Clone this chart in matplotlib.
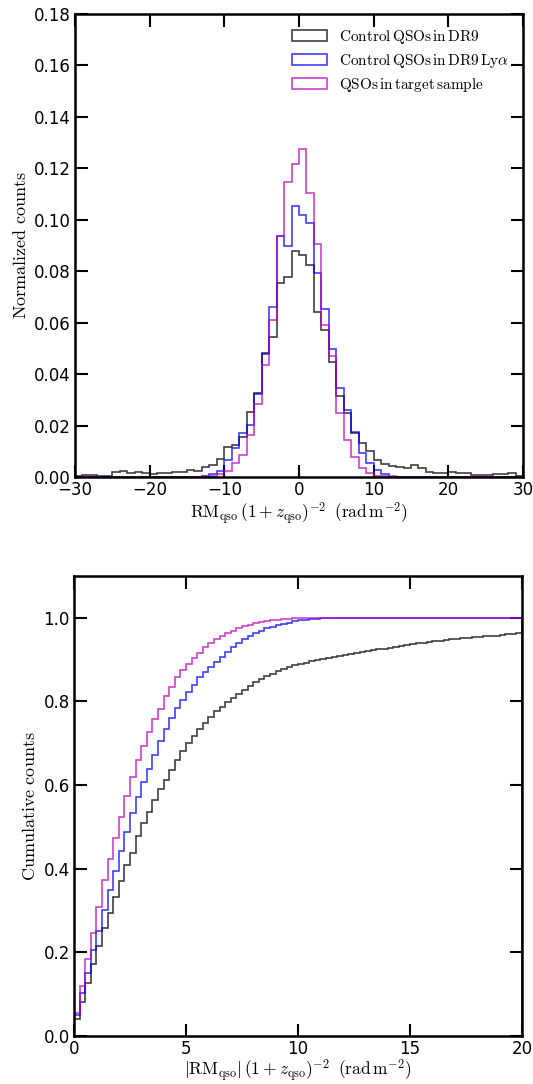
import matplotlib
matplotlib.use('Agg')
import matplotlib.pyplot as plt
import numpy as np

# top panel: normalized histogram, 1 rad/m^2 bins from -30 to 30
edges_rm = np.arange(-30, 31, 1)

dr9 = [0.0004, 0.0006, 0.0006, 0.0004, 0.0002, 0.0019, 0.0022, 0.0017, 0.0019, 0.0014,
       0.0012, 0.0014, 0.0017, 0.0021, 0.0018, 0.0027, 0.0025, 0.0040, 0.0045, 0.0070,
       0.0115, 0.0125, 0.0155, 0.0254, 0.0325, 0.0481, 0.0546, 0.0756, 0.0776, 0.0880,
       0.0863, 0.0826, 0.0643, 0.0572, 0.0448, 0.0315, 0.0248, 0.0172, 0.0131, 0.0102,
       0.0066, 0.0050, 0.0043, 0.0038, 0.0034, 0.0047, 0.0034, 0.0020, 0.0017, 0.0014,
       0.0018, 0.0016, 0.0014, 0.0009, 0.0008, 0.0009, 0.0010, 0.0013, 0.0014, 0.0004]

dr9_lya = [0, 0, 0, 0, 0, 0, 0, 0, 0, 0,
           0, 0, 0, 0, 0, 0, 0, 0.0004, 0.0012, 0.0025,
           0.0066, 0.0112, 0.0170, 0.0202, 0.0323, 0.0478, 0.0662, 0.0937, 0.0899, 0.1054,
           0.1019, 0.0986, 0.0792, 0.0652, 0.0496, 0.0345, 0.0260, 0.0176, 0.0092, 0.0055,
           0.0027, 0.0012, 0, 0, 0, 0, 0, 0, 0, 0,
           0, 0, 0, 0, 0, 0, 0, 0, 0, 0]

target = [0, 0, 0, 0, 0, 0, 0, 0, 0, 0,
          0, 0, 0, 0, 0, 0, 0, 0.0002, 0.0005, 0.0012,
          0.0025, 0.0055, 0.0086, 0.0163, 0.0283, 0.0435, 0.0610, 0.0938, 0.1148, 0.1216,
          0.1277, 0.1103, 0.0906, 0.0591, 0.0470, 0.0248, 0.0144, 0.0077, 0.0036, 0.0014,
          0.0005, 0.0003, 0.0002, 0.0001, 0, 0, 0, 0, 0, 0,
          0, 0, 0, 0, 0, 0, 0, 0, 0, 0]

# bottom panel: cumulative of |RM|, 0.25 bins from 0 to 20
edges_abs = np.arange(0, 20.01, 0.25)

cum_dr9 = [0.040, 0.082, 0.127, 0.172, 0.214, 0.257, 0.295, 0.333, 0.371, 0.409,
           0.438, 0.478, 0.508, 0.535, 0.563, 0.590, 0.612, 0.636, 0.660, 0.682,
           0.700, 0.717, 0.734, 0.749, 0.763, 0.776, 0.787, 0.797, 0.808, 0.818,
           0.828, 0.837, 0.845, 0.853, 0.860, 0.866, 0.872, 0.877, 0.882, 0.886,
           0.889, 0.892, 0.895, 0.898, 0.900, 0.903, 0.906, 0.909, 0.911, 0.913,
           0.915, 0.917, 0.920, 0.922, 0.924, 0.926, 0.928, 0.930, 0.932, 0.934,
           0.936, 0.938, 0.940, 0.941, 0.943, 0.945, 0.946, 0.948, 0.949, 0.950,
           0.952, 0.953, 0.954, 0.955, 0.956, 0.957, 0.959, 0.960, 0.961, 0.963]

cum_dr9_lya = [0.050, 0.102, 0.151, 0.205, 0.250, 0.301, 0.349, 0.395, 0.443, 0.488,
               0.534, 0.570, 0.606, 0.637, 0.672, 0.704, 0.733, 0.759, 0.783, 0.802,
               0.821, 0.839, 0.859, 0.869, 0.882, 0.894, 0.905, 0.918, 0.930, 0.939,
               0.948, 0.956, 0.963, 0.968, 0.974, 0.978, 0.982, 0.985, 0.988, 0.991,
               0.993, 0.995, 0.996, 0.997, 0.998, 0.998, 0.999, 0.999] + [1.0] * 32

cum_target = [0.056, 0.120, 0.183, 0.245, 0.308, 0.373, 0.422, 0.474, 0.523, 0.574,
              0.620, 0.660, 0.693, 0.727, 0.757, 0.782, 0.813, 0.835, 0.857, 0.875,
              0.889, 0.903, 0.916, 0.929, 0.939, 0.949, 0.957, 0.963, 0.969, 0.974,
              0.979, 0.983, 0.986, 0.989, 0.991, 0.993, 0.995, 0.996, 0.997, 0.998,
              0.998, 0.999, 0.999, 0.999, 0.999] + [1.0] * 35

labels = [r'$\mathrm{Control\,QSOs\,in\,DR9}$',
          r'$\mathrm{Control\,QSOs\,in\,DR9\,Ly}\alpha$',
          r'$\mathrm{QSOs\,in\,target\,sample}$']
colors = ['k', 'b', 'm']

plt.rcParams['mathtext.fontset'] = 'cm'
plt.rcParams['font.size'] = 12
plt.rcParams['axes.linewidth'] = 1.8
for ax_name in ['xtick', 'ytick']:
    plt.rcParams[ax_name + '.direction'] = 'in'
    plt.rcParams[ax_name + '.major.size'] = 9
    plt.rcParams[ax_name + '.major.width'] = 1.5
    plt.rcParams[ax_name + '.major.pad'] = 3
plt.rcParams['xtick.top'] = True
plt.rcParams['ytick.right'] = True

fig = plt.figure(figsize=(5.33, 10.84), dpi=100)
ax1 = fig.add_axes([0.1407, 0.5600, 0.8405, 0.4271])
ax2 = fig.add_axes([0.1388, 0.0443, 0.8405, 0.4246])

centers = 0.5 * (edges_rm[:-1] + edges_rm[1:])
for vals, c, lab in zip([dr9, dr9_lya, target], colors, labels):
    ax1.hist(centers, bins=edges_rm, weights=vals, histtype='step',
             color=c, alpha=0.75, linewidth=1.2, label=lab)

ax1.set_xlim(-30, 30)
ax1.set_ylim(0, 0.18)
ax1.set_xticks(np.arange(-30, 31, 10))
ax1.set_yticks(np.arange(0, 0.181, 0.02))
ax1.yaxis.set_major_formatter(matplotlib.ticker.FormatStrFormatter('%.2f'))
ax1.set_xlabel(r'$\mathrm{RM_{qso}}\,(1+z_{\rm qso})^{-2}\;\;(\mathrm{rad\,m^{-2}})$',
               fontsize=12.5, labelpad=1)
ax1.set_ylabel(r'$\mathrm{Normalized\ counts}$', fontsize=13, labelpad=3)
ax1.legend(loc='upper right', frameon=False, fontsize=11,
           handlelength=2.3, handleheight=0.77, handletextpad=0.8,
           labelspacing=0.4)

centers_b = 0.5 * (edges_abs[:-1] + edges_abs[1:])
for vals, c in zip([cum_dr9, cum_dr9_lya, cum_target], colors):
    ax2.hist(centers_b, bins=edges_abs, weights=vals, histtype='step',
             color=c, alpha=0.75, linewidth=1.2)

ax2.set_xlim(0, 20)
ax2.set_ylim(0, 1.1)
ax2.set_xticks([0, 5, 10, 15, 20])
ax2.set_yticks(np.arange(0, 1.01, 0.2))
ax2.yaxis.set_major_formatter(matplotlib.ticker.FormatStrFormatter('%.1f'))
ax2.set_xlabel(r'$|\mathrm{RM_{qso}}|\,(1+z_{\rm qso})^{-2}\;\;(\mathrm{rad\,m^{-2}})$',
               fontsize=12.5, labelpad=0)
ax2.set_ylabel(r'$\mathrm{Cumulative\ counts}$', fontsize=13, labelpad=3)

fig.savefig('out.png', dpi=100)
